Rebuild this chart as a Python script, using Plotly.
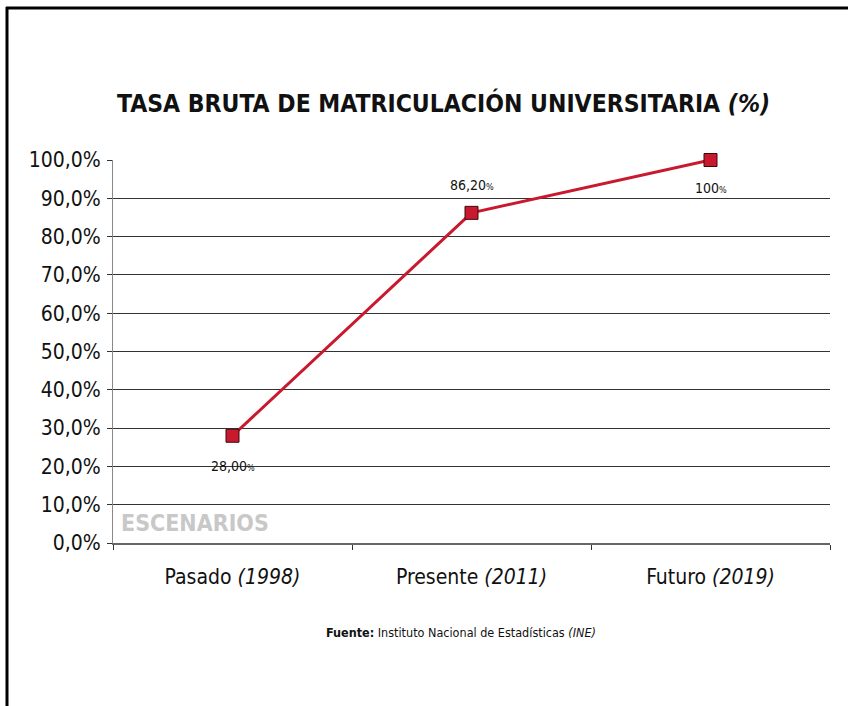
import plotly.graph_objects as go

categories = ["Pasado (1998)", "Presente (2011)", "Futuro (2019)"]
category_labels = ["Pasado <i>(1998)</i>", "Presente <i>(2011)</i>", "Futuro <i>(2019)</i>"]
values = [28.0, 86.2, 100.0]
value_labels = ["28,00", "86,20", "100"]
label_shift = [-30, 28, -28]
y_ticks = [0, 10, 20, 30, 40, 50, 60, 70, 80, 90, 100]
y_tick_labels = ["0,0%", "10,0%", "20,0%", "30,0%", "40,0%", "50,0%", "60,0%", "70,0%", "80,0%", "90,0%", "100,0%"]

FONT = "DejaVu Sans Condensed, Liberation Sans Narrow, Arial Narrow, sans-serif"
RED = "#C8192E"

fig = go.Figure()
fig.add_trace(go.Scatter(
    x=categories, y=values, mode="lines+markers",
    line=dict(color=RED, width=3),
    marker=dict(symbol="square", size=13, color=RED, line=dict(color="#3a0a0a", width=1)),
    hoverinfo="skip", showlegend=False, cliponaxis=False,
))

for c, v, t, s in zip(categories, values, value_labels, label_shift):
    fig.add_annotation(x=c, y=v, xref="x", yref="y", text=t + "<span style='font-size:9px'>%</span>",
                       showarrow=False, yshift=s, font=dict(family=FONT, size=14, color="#111"))

W, H = 848, 706
ml, mr, mt, mb = 113, 18, 160, 163
pw, ph = W - ml - mr, H - mt - mb

def px(x):
    return (x - ml) / pw

def py(y):
    return 1 - (y - mt) / ph

fig.add_annotation(x=px(443), y=py(103), xref="paper", yref="paper",
                   text="<b>TASA BRUTA DE MATRICULACIÓN UNIVERSITARIA <i>(%)</i></b>",
                   showarrow=False, xanchor="center", yanchor="middle",
                   font=dict(family=FONT, size=24.5, color="#111"))
fig.add_annotation(x=px(119), y=py(523), xref="paper", yref="paper",
                   text="<b>ESCENARIOS</b>", showarrow=False, xanchor="left", yanchor="middle",
                   font=dict(family=FONT, size=23, color="#c8c8c8"))
fig.add_annotation(x=px(461), y=py(632), xref="paper", yref="paper",
                   text="<b>Fuente:</b> Instituto Nacional de Estadísticas <i>(INE)</i>",
                   showarrow=False, xanchor="center", yanchor="middle",
                   font=dict(family=FONT, size=12.5, color="#111"))

# outer frame
fig.add_shape(type="line", xref="paper", yref="paper", x0=px(7), x1=px(7), y0=py(7), y1=py(720),
              line=dict(color="black", width=3))
fig.add_shape(type="line", xref="paper", yref="paper", x0=px(6), x1=px(870), y0=py(8), y1=py(8),
              line=dict(color="black", width=3))

fig.update_xaxes(
    type="category", categoryorder="array", categoryarray=categories,
    tickvals=categories, ticktext=category_labels,
    range=[-0.5, 2.5], tickson="boundaries", ticks="outside", ticklen=5, tickcolor="#333",
    showline=True, linecolor="#666", linewidth=2, showgrid=False,
    tickfont=dict(family=FONT, size=21, color="#111"), ticklabelstandoff=14,
)
fig.update_yaxes(
    range=[0, 100], tickvals=y_ticks, ticktext=y_tick_labels,
    ticks="outside", ticklen=5, tickcolor="#333",
    showline=True, linecolor="#888", linewidth=1,
    showgrid=True, gridcolor="#333", gridwidth=1, zeroline=False,
    tickfont=dict(family=FONT, size=21, color="#111"), ticklabelstandoff=2,
)
fig.update_layout(
    width=W, height=H, margin=dict(l=ml, r=mr, t=mt, b=mb),
    paper_bgcolor="white", plot_bgcolor="white",
)
fig.write_html("out.html", config={"displayModeBar": False},
               post_script="document.body.style.margin='0';document.body.style.overflow='hidden';")
